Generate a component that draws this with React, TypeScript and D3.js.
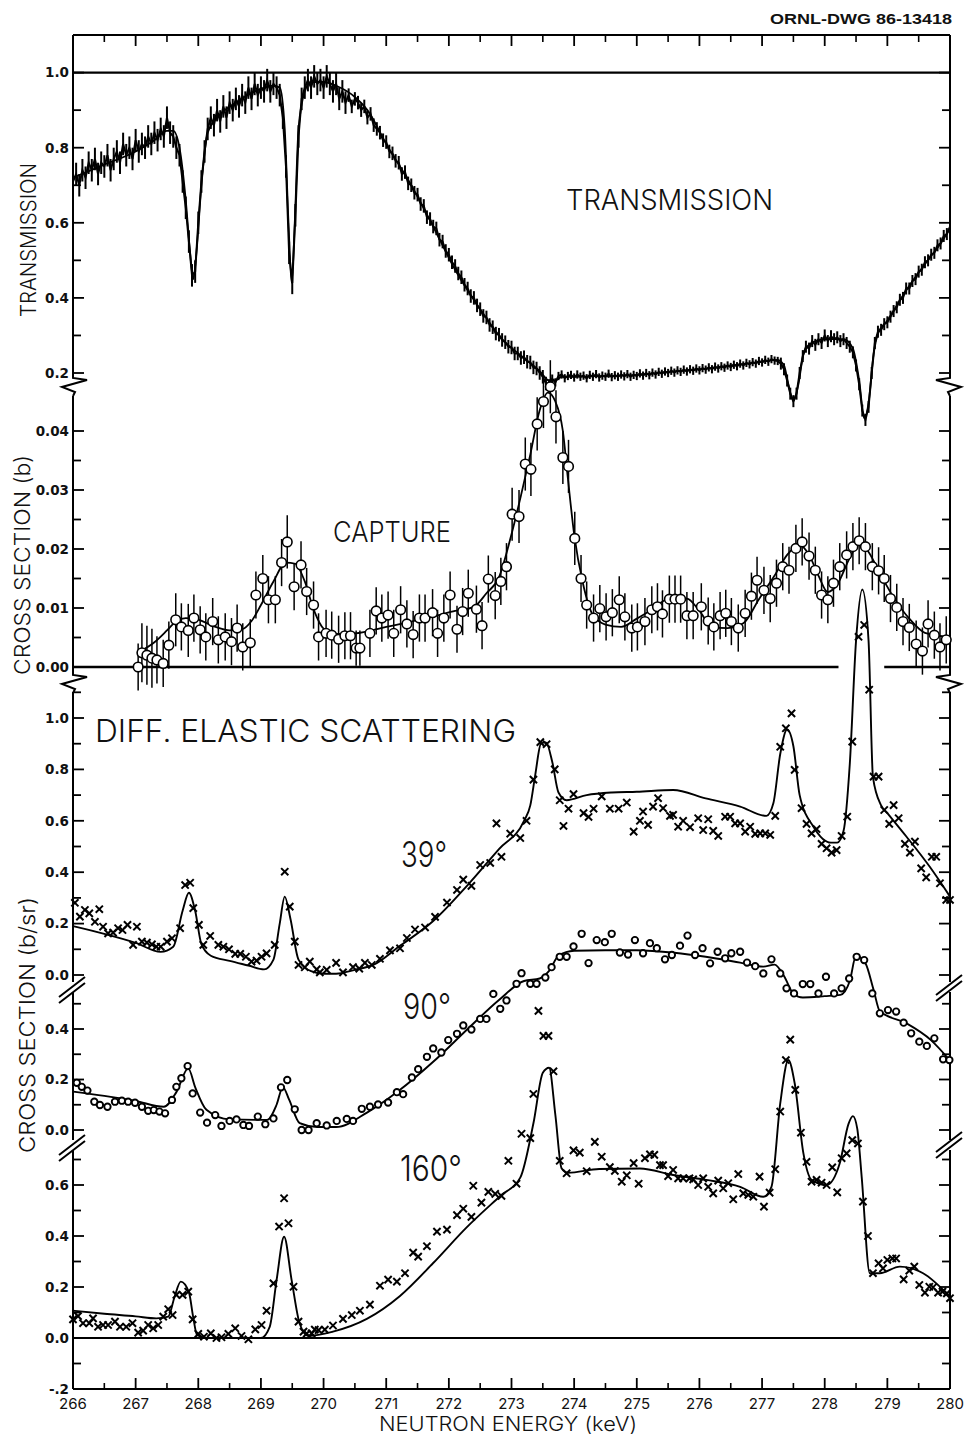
import React from "react";
import * as d3 from "d3";

// ---------------- DATA ----------------
const energyMajor = [266, 267, 268, 269, 270, 271, 272, 273, 274, 275, 276, 277, 278, 279, 280];
const energyLabels = ["266", "267", "268", "269", "270", "271", "272", "273", "274", "275", "276", "277", "278", "279", "280"];
const energyMinor = [266.5, 267.5, 268.5, 269.5, 270.5, 271.5, 272.5, 273.5, 274.5, 275.5, 276.5, 277.5, 278.5, 279.5];

// Transmission: measured points on a 0.05 keV grid starting at 266.00
const transStart = 266;
const transStep = 0.05;
const transData = [
  0.71, 0.73, 0.70, 0.74, 0.72, 0.76, 0.74, 0.77, 0.73, 0.76, 0.75, 0.78, 0.74, 0.77, 0.79, 0.76, 0.81, 0.78, 0.80, 0.77,
  0.82, 0.79, 0.81, 0.80, 0.83, 0.81, 0.84, 0.82, 0.85, 0.83, 0.88, 0.84, 0.83, 0.80, 0.78, 0.71, 0.64, 0.55, 0.46, 0.47,
  0.60, 0.71, 0.79, 0.85, 0.88, 0.86, 0.90, 0.87, 0.91, 0.88, 0.92, 0.90, 0.93, 0.91, 0.94, 0.92, 0.96, 0.93, 0.97, 0.94,
  0.96, 0.95, 0.98, 0.95, 0.97, 0.96, 0.94, 0.88, 0.75, 0.52, 0.44, 0.62, 0.83, 0.93, 0.96, 0.98, 0.96, 0.99, 0.97, 0.98,
  0.96, 0.99, 0.97, 0.95, 0.97, 0.93, 0.95, 0.92, 0.94, 0.91, 0.93, 0.92, 0.90, 0.91, 0.88, 0.89, 0.86, 0.85, 0.84, 0.82,
  0.815, 0.79, 0.785, 0.765, 0.76, 0.73, 0.735, 0.705, 0.70, 0.68, 0.675, 0.65, 0.645, 0.615, 0.61, 0.59, 0.585, 0.555, 0.55, 0.525,
  0.515, 0.495, 0.485, 0.465, 0.455, 0.435, 0.425, 0.405, 0.40, 0.38, 0.37, 0.352, 0.348, 0.328, 0.322, 0.305, 0.302, 0.288, 0.282, 0.27,
  0.268, 0.252, 0.252, 0.24, 0.242, 0.23, 0.228, 0.215, 0.212, 0.2, 0.19, 0.172, 0.172, 0.185, 0.175, 0.192, 0.196, 0.186, 0.192, 0.195,
  0.188, 0.196, 0.19, 0.193, 0.186, 0.195, 0.19, 0.197, 0.188, 0.193, 0.19, 0.198, 0.189, 0.194, 0.19, 0.196, 0.191, 0.197, 0.19, 0.195,
  0.192, 0.199, 0.193, 0.2, 0.194, 0.201, 0.196, 0.203, 0.198, 0.204, 0.2, 0.206, 0.201, 0.207, 0.203, 0.209, 0.204, 0.21, 0.206, 0.212,
  0.207, 0.213, 0.209, 0.215, 0.21, 0.217, 0.212, 0.218, 0.214, 0.22, 0.216, 0.222, 0.218, 0.225, 0.22, 0.227, 0.223, 0.229, 0.225, 0.232,
  0.228, 0.235, 0.23, 0.237, 0.233, 0.232, 0.225, 0.21, 0.18, 0.145, 0.125, 0.145, 0.2, 0.245, 0.27, 0.265, 0.285, 0.275, 0.29, 0.28,
  0.3, 0.285, 0.298, 0.29, 0.295, 0.285, 0.29, 0.28, 0.27, 0.255, 0.22, 0.17, 0.1, 0.075, 0.11, 0.2, 0.28, 0.31, 0.315, 0.33,
  0.335, 0.35, 0.365, 0.375, 0.395, 0.40, 0.425, 0.425, 0.445, 0.45, 0.47, 0.475, 0.495, 0.50, 0.515, 0.52, 0.54, 0.545, 0.565, 0.57,
  0.59,
];
const transErrBands: [number, number, number][] = [
  [266, 270.4, 0.03],
  [270.4, 273.6, 0.018],
  [273.6, 277.3, 0.011],
  [277.3, 280.01, 0.016],
];
const transFit: [number, number][] = [
  [266.0, 0.72], [266.5, 0.755], [267.0, 0.79], [267.3, 0.82], [267.5, 0.845], [267.6, 0.845], [267.7, 0.8],
  [267.8, 0.66], [267.87, 0.52], [267.92, 0.45], [267.97, 0.52], [268.05, 0.7], [268.15, 0.84], [268.3, 0.88],
  [268.6, 0.92], [268.9, 0.95], [269.2, 0.965], [269.3, 0.96], [269.38, 0.85], [269.44, 0.6], [269.49, 0.44],
  [269.54, 0.6], [269.6, 0.85], [269.7, 0.95], [269.8, 0.975], [270.0, 0.975], [270.2, 0.965], [270.5, 0.935],
  [270.7, 0.9], [271.0, 0.81], [271.4, 0.7], [271.75, 0.59], [272.1, 0.475], [272.5, 0.37], [272.85, 0.29],
  [273.2, 0.24], [273.45, 0.205], [273.6, 0.18], [273.7, 0.18], [273.8, 0.19], [274.0, 0.19], [274.5, 0.192],
  [275.0, 0.195], [275.5, 0.203], [276.0, 0.21], [276.5, 0.22], [277.0, 0.23], [277.25, 0.235], [277.35, 0.22],
  [277.42, 0.17], [277.5, 0.125], [277.58, 0.17], [277.66, 0.25], [277.75, 0.275], [278.0, 0.29], [278.3, 0.29],
  [278.45, 0.265], [278.55, 0.18], [278.63, 0.08], [278.7, 0.12], [278.78, 0.25], [278.85, 0.305], [279.0, 0.34],
  [279.3, 0.42], [279.6, 0.49], [279.85, 0.545], [280.0, 0.585],
];

// Capture cross section: [energy, sigma (b), error]
const captureData: [number, number, number][] = [
  [267.04, 0.0, 0.004], [267.10, 0.0024, 0.005], [267.18, 0.002, 0.005], [267.26, 0.0015, 0.005], [267.34, 0.0012, 0.004],
  [267.44, 0.0006, 0.004], [267.53, 0.0037, 0.004], [267.64, 0.008, 0.0045], [267.73, 0.0068, 0.004], [267.84, 0.0062, 0.0045],
  [267.93, 0.0083, 0.004], [268.03, 0.0063, 0.004], [268.12, 0.0051, 0.004], [268.23, 0.0077, 0.004], [268.32, 0.0046, 0.004],
  [268.43, 0.0051, 0.004], [268.53, 0.0043, 0.004], [268.62, 0.0066, 0.004], [268.71, 0.0034, 0.004], [268.83, 0.0041, 0.004],
  [268.92, 0.0122, 0.004], [269.03, 0.015, 0.004], [269.12, 0.0114, 0.004], [269.23, 0.0114, 0.004], [269.33, 0.0177, 0.004],
  [269.42, 0.0212, 0.0045], [269.53, 0.0136, 0.004], [269.64, 0.0173, 0.004], [269.73, 0.0128, 0.004], [269.84, 0.0105, 0.004],
  [269.92, 0.0051, 0.004], [270.04, 0.0057, 0.004], [270.13, 0.0054, 0.004], [270.24, 0.0047, 0.004], [270.34, 0.0053, 0.004],
  [270.43, 0.0053, 0.004], [270.52, 0.0032, 0.003], [270.58, 0.0032, 0.003], [270.74, 0.0057, 0.004], [270.84, 0.0095, 0.004],
  [270.93, 0.0083, 0.004], [271.03, 0.0088, 0.004], [271.12, 0.0057, 0.004], [271.23, 0.0097, 0.004], [271.33, 0.0073, 0.004],
  [271.43, 0.0055, 0.004], [271.53, 0.0083, 0.004], [271.62, 0.0083, 0.004], [271.74, 0.0092, 0.004], [271.82, 0.0057, 0.004],
  [271.92, 0.0083, 0.004], [272.02, 0.0122, 0.004], [272.13, 0.0064, 0.004], [272.22, 0.0094, 0.004], [272.31, 0.0125, 0.004],
  [272.44, 0.0098, 0.004], [272.53, 0.007, 0.004], [272.63, 0.0149, 0.004], [272.74, 0.0121, 0.004], [272.83, 0.0145, 0.004],
  [272.92, 0.017, 0.004], [273.01, 0.0259, 0.0045], [273.12, 0.0255, 0.0045], [273.22, 0.0344, 0.0045], [273.31, 0.0335, 0.0045],
  [273.41, 0.0412, 0.0045], [273.51, 0.045, 0.0045], [273.62, 0.0475, 0.0045], [273.71, 0.0424, 0.0045], [273.82, 0.0355, 0.0045],
  [273.91, 0.034, 0.0045], [274.01, 0.0218, 0.0045], [274.11, 0.015, 0.004], [274.20, 0.0105, 0.004], [274.31, 0.0083, 0.004],
  [274.41, 0.0099, 0.004], [274.51, 0.0085, 0.004], [274.61, 0.0092, 0.004], [274.72, 0.0114, 0.004], [274.81, 0.0085, 0.004],
  [274.92, 0.0066, 0.004], [275.01, 0.0068, 0.004], [275.13, 0.0077, 0.004], [275.24, 0.0097, 0.004], [275.33, 0.0102, 0.004],
  [275.41, 0.009, 0.004], [275.52, 0.0115, 0.004], [275.61, 0.0115, 0.004], [275.70, 0.0115, 0.004], [275.80, 0.0087, 0.004],
  [275.90, 0.0087, 0.004], [276.03, 0.0102, 0.004], [276.14, 0.0078, 0.004], [276.23, 0.0068, 0.004], [276.33, 0.0087, 0.004],
  [276.42, 0.0091, 0.004], [276.51, 0.0077, 0.004], [276.62, 0.0066, 0.004], [276.73, 0.0091, 0.004], [276.83, 0.012, 0.004],
  [276.92, 0.0147, 0.004], [277.03, 0.013, 0.004], [277.13, 0.0116, 0.004], [277.23, 0.0142, 0.004], [277.33, 0.017, 0.004],
  [277.43, 0.0164, 0.004], [277.54, 0.0201, 0.004], [277.64, 0.0212, 0.004], [277.75, 0.0188, 0.004], [277.85, 0.0164, 0.004],
  [277.95, 0.0122, 0.004], [278.05, 0.0114, 0.004], [278.14, 0.0142, 0.004], [278.24, 0.017, 0.004], [278.35, 0.019, 0.004],
  [278.45, 0.0204, 0.004], [278.55, 0.0214, 0.004], [278.65, 0.0204, 0.004], [278.76, 0.017, 0.004], [278.86, 0.0163, 0.004],
  [278.95, 0.015, 0.004], [279.05, 0.0116, 0.004], [279.15, 0.0101, 0.004], [279.25, 0.0077, 0.004], [279.35, 0.0067, 0.004],
  [279.46, 0.0039, 0.004], [279.56, 0.0027, 0.004], [279.65, 0.0073, 0.004], [279.75, 0.0054, 0.004], [279.84, 0.0034, 0.004],
  [279.94, 0.0046, 0.004],
];
const captureFit: [number, number][] = [
  [267.05, 0.0025], [267.3, 0.0042], [267.5, 0.0062], [267.65, 0.0078], [267.8, 0.0083], [267.95, 0.0082], [268.1, 0.0076],
  [268.3, 0.0067], [268.5, 0.0062], [268.7, 0.0064], [268.85, 0.0078], [269.0, 0.0105], [269.2, 0.0145], [269.4, 0.0177],
  [269.55, 0.0175], [269.7, 0.0145], [269.85, 0.0095], [270.0, 0.0065], [270.2, 0.0056], [270.5, 0.0057], [271.0, 0.0068],
  [271.4, 0.0077], [271.8, 0.0087], [272.1, 0.0095], [272.4, 0.0102], [272.6, 0.0125], [272.8, 0.0152], [273.0, 0.0225],
  [273.15, 0.029], [273.3, 0.036], [273.45, 0.0435], [273.58, 0.0465], [273.7, 0.045], [273.82, 0.04], [273.9, 0.032],
  [274.0, 0.0225], [274.14, 0.0142], [274.3, 0.0088], [274.5, 0.0072], [274.75, 0.0068], [275.0, 0.0082], [275.25, 0.0098],
  [275.5, 0.0115], [275.8, 0.0116], [276.0, 0.0095], [276.2, 0.0068], [276.45, 0.0066], [276.7, 0.0074], [276.95, 0.0115],
  [277.2, 0.0155], [277.4, 0.019], [277.6, 0.0207], [277.75, 0.019], [277.9, 0.0155], [278.05, 0.0127], [278.2, 0.014],
  [278.4, 0.0185], [278.56, 0.0212], [278.7, 0.0195], [278.9, 0.0155], [279.1, 0.0118], [279.35, 0.0082], [279.6, 0.0058],
  [280.0, 0.0051],
];
const captureGap = [278.22, 278.95];

// Differential elastic scattering 39 deg (b/sr)
const el39Data: [number, number][] = [
  [266.03, 0.281], [266.11, 0.227], [266.19, 0.253], [266.26, 0.24], [266.35, 0.207], [266.42, 0.256], [266.48, 0.188],
  [266.56, 0.162], [266.64, 0.165], [266.72, 0.182], [266.79, 0.175], [266.87, 0.195], [266.96, 0.117], [267.02, 0.188],
  [267.10, 0.13], [267.18, 0.126], [267.26, 0.119], [267.33, 0.11], [267.40, 0.11], [267.50, 0.13], [267.58, 0.143],
  [267.71, 0.182], [267.79, 0.35], [267.87, 0.359], [267.92, 0.26], [268.01, 0.195], [268.08, 0.117], [268.19, 0.152],
  [268.32, 0.117], [268.40, 0.11], [268.49, 0.1], [268.59, 0.082], [268.67, 0.082], [268.76, 0.071], [268.85, 0.052],
  [268.93, 0.056], [269.01, 0.071], [269.09, 0.084], [269.22, 0.117], [269.38, 0.402], [269.46, 0.266], [269.54, 0.13],
  [269.60, 0.039], [269.70, 0.03], [269.78, 0.052], [269.89, 0.022], [269.94, 0.01], [270.05, 0.02], [270.20, 0.047],
  [270.31, 0.01], [270.47, 0.031], [270.57, 0.025], [270.66, 0.047], [270.77, 0.039], [270.90, 0.063], [271.06, 0.096],
  [271.22, 0.104], [271.33, 0.144], [271.46, 0.177], [271.62, 0.185], [271.78, 0.226], [271.97, 0.282], [272.13, 0.331],
  [272.23, 0.371], [272.36, 0.347], [272.50, 0.428], [272.66, 0.436], [272.76, 0.59], [272.84, 0.46], [272.98, 0.55],
  [273.14, 0.533], [273.24, 0.6], [273.35, 0.76], [273.46, 0.906], [273.56, 0.898], [273.69, 0.8], [273.77, 0.68],
  [273.83, 0.58], [273.91, 0.647], [273.99, 0.704], [274.15, 0.63], [274.23, 0.615], [274.31, 0.647], [274.44, 0.695],
  [274.57, 0.647], [274.71, 0.647], [274.84, 0.671], [274.95, 0.558], [275.05, 0.6], [275.10, 0.636], [275.18, 0.584],
  [275.26, 0.655], [275.34, 0.688], [275.42, 0.649], [275.53, 0.619], [275.58, 0.623], [275.66, 0.577], [275.74, 0.6],
  [275.85, 0.575], [275.98, 0.61], [276.06, 0.564], [276.14, 0.606], [276.22, 0.561], [276.30, 0.541], [276.41, 0.616],
  [276.49, 0.616], [276.57, 0.59], [276.65, 0.59], [276.73, 0.558], [276.81, 0.577], [276.89, 0.549], [276.97, 0.551],
  [277.05, 0.551], [277.13, 0.545], [277.21, 0.619], [277.29, 0.888], [277.38, 0.96], [277.47, 1.018], [277.52, 0.798],
  [277.63, 0.649], [277.71, 0.588], [277.79, 0.551], [277.87, 0.568], [277.95, 0.51], [278.03, 0.493], [278.11, 0.476],
  [278.19, 0.486], [278.27, 0.541], [278.36, 0.616], [278.44, 0.908], [278.54, 1.316], [278.63, 1.362], [278.71, 1.11],
  [278.78, 0.772], [278.86, 0.772], [278.95, 0.642], [279.03, 0.588], [279.10, 0.661], [279.18, 0.61], [279.28, 0.51],
  [279.36, 0.476], [279.44, 0.519], [279.54, 0.415], [279.62, 0.38], [279.71, 0.46], [279.78, 0.46], [279.84, 0.357],
  [279.94, 0.292], [280.0, 0.292],
];
const el39Fit: [number, number][] = [
  [266.0, 0.19], [266.5, 0.16], [267.0, 0.125], [267.4, 0.09], [267.6, 0.11], [267.75, 0.25], [267.85, 0.32], [267.95, 0.25],
  [268.05, 0.12], [268.2, 0.075], [268.5, 0.055], [268.8, 0.037], [269.05, 0.022], [269.2, 0.06], [269.3, 0.2], [269.38, 0.305],
  [269.47, 0.22], [269.6, 0.06], [269.8, 0.015], [270.0, 0.005], [270.2, 0.005], [270.5, 0.02], [270.8, 0.04], [271.2, 0.11],
  [271.75, 0.21], [272.3, 0.35], [272.8, 0.49], [273.2, 0.6], [273.3, 0.66], [273.38, 0.78], [273.47, 0.9], [273.55, 0.905],
  [273.65, 0.83], [273.75, 0.71], [273.88, 0.68], [274.2, 0.7], [274.6, 0.71], [275.0, 0.713], [275.58, 0.72], [276.1, 0.687],
  [276.65, 0.655], [277.07, 0.619], [277.18, 0.668], [277.29, 0.86], [277.4, 0.955], [277.5, 0.89], [277.6, 0.7], [277.82, 0.577],
  [278.1, 0.515], [278.2, 0.515], [278.3, 0.56], [278.4, 0.82], [278.5, 1.3], [278.6, 1.5], [278.7, 1.3], [278.77, 0.77],
  [278.9, 0.66], [279.0, 0.63], [279.3, 0.54], [279.68, 0.42], [280.0, 0.305],
];

// 90 deg
const el90Data: [number, number][] = [
  [266.06, 0.187], [266.14, 0.171], [266.23, 0.156], [266.34, 0.112], [266.43, 0.099], [266.55, 0.092], [266.67, 0.112],
  [266.78, 0.116], [266.88, 0.112], [266.99, 0.108], [267.10, 0.092], [267.20, 0.076], [267.29, 0.079], [267.38, 0.073],
  [267.47, 0.066], [267.58, 0.119], [267.65, 0.171], [267.73, 0.205], [267.83, 0.253], [267.91, 0.145], [268.03, 0.069],
  [268.14, 0.029], [268.27, 0.059], [268.37, 0.016], [268.50, 0.036], [268.61, 0.042], [268.72, 0.02], [268.81, 0.016],
  [268.95, 0.053], [269.07, 0.023], [269.20, 0.046], [269.32, 0.169], [269.42, 0.198], [269.54, 0.082], [269.65, 0.0],
  [269.76, 0.0], [269.89, 0.027], [270.05, 0.018], [270.21, 0.036], [270.37, 0.044], [270.47, 0.036], [270.61, 0.084],
  [270.74, 0.092], [270.87, 0.101], [271.03, 0.109], [271.17, 0.15], [271.27, 0.142], [271.41, 0.208], [271.51, 0.241],
  [271.65, 0.29], [271.75, 0.323], [271.88, 0.307], [271.99, 0.356], [272.13, 0.381], [272.23, 0.414], [272.36, 0.398],
  [272.50, 0.44], [272.60, 0.44], [272.71, 0.539], [272.82, 0.48], [272.92, 0.513], [273.08, 0.579], [273.16, 0.621],
  [273.30, 0.579], [273.40, 0.579], [273.54, 0.604], [273.64, 0.645], [273.77, 0.686], [273.88, 0.686], [273.99, 0.727],
  [274.12, 0.777], [274.23, 0.661], [274.36, 0.752], [274.49, 0.744], [274.60, 0.777], [274.73, 0.703], [274.86, 0.695],
  [274.97, 0.752], [275.10, 0.7], [275.21, 0.74], [275.32, 0.72], [275.45, 0.676], [275.56, 0.693], [275.69, 0.73],
  [275.81, 0.77], [275.93, 0.693], [276.05, 0.72], [276.17, 0.66], [276.29, 0.706], [276.41, 0.68], [276.51, 0.7],
  [276.65, 0.706], [276.76, 0.663], [276.89, 0.649], [277.02, 0.62], [277.15, 0.676], [277.29, 0.62], [277.39, 0.561],
  [277.51, 0.541], [277.65, 0.578], [277.77, 0.578], [277.90, 0.541], [278.02, 0.607], [278.15, 0.541], [278.27, 0.561],
  [278.39, 0.6], [278.51, 0.686], [278.63, 0.673], [278.76, 0.541], [278.88, 0.462], [279.01, 0.475], [279.14, 0.469],
  [279.26, 0.425], [279.38, 0.383], [279.51, 0.35], [279.63, 0.333], [279.75, 0.363], [279.89, 0.28], [279.99, 0.277],
];
const el90Fit: [number, number][] = [
  [266.0, 0.152], [266.5, 0.135], [267.0, 0.115], [267.45, 0.092], [267.65, 0.15], [267.84, 0.244], [267.95, 0.17],
  [268.13, 0.08], [268.5, 0.042], [269.1, 0.04], [269.25, 0.1], [269.35, 0.17], [269.45, 0.12], [269.62, 0.027],
  [269.9, 0.012], [270.2, 0.012], [270.7, 0.07], [271.2, 0.155], [271.75, 0.27], [272.3, 0.4], [272.8, 0.515],
  [273.2, 0.59], [273.45, 0.6], [273.6, 0.63], [273.75, 0.69], [274.0, 0.71], [274.5, 0.712], [275.0, 0.712],
  [275.6, 0.702], [276.1, 0.686], [276.65, 0.663], [277.02, 0.647], [277.2, 0.655], [277.35, 0.61], [277.5, 0.54],
  [277.65, 0.525], [278.0, 0.53], [278.25, 0.535], [278.4, 0.59], [278.5, 0.69], [278.65, 0.66], [278.78, 0.555],
  [278.88, 0.47], [279.3, 0.423], [279.7, 0.355], [280.0, 0.275],
];

// 160 deg
const el160Data: [number, number][] = [
  [266.0, 0.073], [266.08, 0.086], [266.16, 0.058], [266.26, 0.058], [266.32, 0.077], [266.40, 0.044], [266.48, 0.051],
  [266.56, 0.051], [266.67, 0.064], [266.75, 0.044], [266.85, 0.044], [266.95, 0.058], [267.04, 0.021], [267.12, 0.029],
  [267.20, 0.051], [267.28, 0.038], [267.36, 0.051], [267.44, 0.084], [267.52, 0.113], [267.59, 0.09], [267.65, 0.169],
  [267.75, 0.169], [267.84, 0.182], [267.91, 0.073], [268.00, 0.016], [268.09, 0.005], [268.20, 0.018], [268.29, 0.0],
  [268.37, 0.003], [268.48, 0.016], [268.59, 0.038], [268.69, 0.008], [268.80, -0.005], [268.91, 0.034], [269.01, 0.051],
  [269.09, 0.107], [269.20, 0.214], [269.29, 0.437], [269.37, 0.548], [269.44, 0.45], [269.52, 0.201], [269.60, 0.064],
  [269.68, 0.025], [269.73, 0.017], [269.81, 0.018], [269.86, 0.033], [269.92, 0.031], [270.02, 0.033], [270.15, 0.049],
  [270.31, 0.075], [270.45, 0.09], [270.58, 0.107], [270.74, 0.131], [270.90, 0.205], [271.03, 0.229], [271.17, 0.221],
  [271.30, 0.254], [271.43, 0.335], [271.51, 0.319], [271.65, 0.36], [271.81, 0.417], [271.97, 0.425], [272.13, 0.482],
  [272.23, 0.507], [272.36, 0.475], [272.39, 0.597], [272.52, 0.531], [272.63, 0.573], [272.74, 0.565], [272.84, 0.557],
  [272.95, 0.695], [273.08, 0.605], [273.16, 0.801], [273.30, 0.784], [273.35, 0.957], [273.43, 1.283], [273.51, 1.185],
  [273.59, 1.185], [273.67, 1.046], [273.77, 0.695], [273.88, 0.646], [273.99, 0.736], [274.09, 0.727], [274.20, 0.654],
  [274.33, 0.769], [274.44, 0.711], [274.57, 0.67], [274.65, 0.655], [274.76, 0.613], [274.84, 0.638], [274.95, 0.686],
  [275.03, 0.605], [275.13, 0.705], [275.21, 0.72], [275.28, 0.718], [275.37, 0.678], [275.42, 0.678], [275.50, 0.635],
  [275.58, 0.659], [275.66, 0.626], [275.74, 0.626], [275.84, 0.626], [275.90, 0.622], [275.98, 0.6], [276.06, 0.626],
  [276.14, 0.593], [276.22, 0.567], [276.30, 0.617], [276.38, 0.587], [276.46, 0.607], [276.54, 0.544], [276.62, 0.643],
  [276.70, 0.567], [276.78, 0.561], [276.86, 0.554], [276.96, 0.633], [277.03, 0.515], [277.12, 0.57], [277.21, 0.662],
  [277.29, 0.888], [277.38, 1.09], [277.45, 1.17], [277.53, 0.973], [277.62, 0.805], [277.71, 0.691], [277.79, 0.613],
  [277.87, 0.62], [277.95, 0.609], [278.03, 0.6], [278.12, 0.669], [278.20, 0.571], [278.27, 0.705], [278.35, 0.724],
  [278.44, 0.776], [278.53, 0.763], [278.61, 0.535], [278.69, 0.4], [278.77, 0.254], [278.86, 0.293], [278.93, 0.273],
  [279.00, 0.306], [279.08, 0.312], [279.14, 0.312], [279.26, 0.23], [279.35, 0.264], [279.43, 0.28], [279.51, 0.208],
  [279.60, 0.178], [279.67, 0.201], [279.73, 0.199], [279.81, 0.178], [279.88, 0.182], [279.95, 0.175], [280.0, 0.156],
];
const el160Fit: [number, number][] = [
  [266.0, 0.107], [266.5, 0.095], [267.0, 0.085], [267.33, 0.077], [267.52, 0.084], [267.62, 0.16], [267.72, 0.221],
  [267.85, 0.18], [267.92, 0.08], [267.98, 0.012], [268.13, 0.0], [269.0, 0.0], [269.14, 0.044], [269.25, 0.227],
  [269.37, 0.397], [269.49, 0.227], [269.62, 0.055], [269.76, 0.008], [270.15, 0.025], [270.69, 0.075], [271.22, 0.165],
  [271.75, 0.294], [272.28, 0.433], [272.82, 0.557], [273.14, 0.629], [273.35, 0.842], [273.5, 1.04], [273.6, 1.06],
  [273.7, 0.875], [273.8, 0.665], [273.9, 0.648], [274.4, 0.663], [275.05, 0.665], [275.58, 0.639], [276.11, 0.62],
  [276.65, 0.593], [277.02, 0.554], [277.15, 0.593], [277.29, 0.92], [277.42, 1.09], [277.52, 1.0], [277.66, 0.724],
  [277.79, 0.62], [278.03, 0.6], [278.24, 0.685], [278.38, 0.84], [278.45, 0.87], [278.52, 0.82], [278.59, 0.632],
  [278.72, 0.254], [278.88, 0.254], [279.2, 0.28], [279.57, 0.254], [280.0, 0.162],
];

// axis ticks & labels
const transTicks = [0.2, 0.3, 0.4, 0.5, 0.6, 0.7, 0.8, 0.9, 1.0];
const transLabelVals = [0.2, 0.4, 0.6, 0.8, 1.0];
const transLabels = ["0.2", "0.4", "0.6", "0.8", "1.0"];
const captureTicks = [0, 0.005, 0.01, 0.015, 0.02, 0.025, 0.03, 0.035, 0.04];
const captureLabelVals = [0, 0.01, 0.02, 0.03, 0.04];
const captureLabels = ["0.00", "0.01", "0.02", "0.03", "0.04"];
const el39Ticks = [0, 0.1, 0.2, 0.3, 0.4, 0.5, 0.6, 0.7, 0.8, 0.9, 1.0, 1.1];
const el39LabelVals = [0, 0.2, 0.4, 0.6, 0.8, 1.0];
const el39Labels = ["0.0", "0.2", "0.4", "0.6", "0.8", "1.0"];
const el90Ticks = [0, 0.1, 0.2, 0.3, 0.4, 0.5];
const el90LabelVals = [0, 0.2, 0.4];
const el90Labels = ["0.0", "0.2", "0.4"];
const el160Ticks = [-0.1, 0, 0.1, 0.2, 0.3, 0.4, 0.5, 0.6, 0.7];
const el160LabelVals = [-0.2, 0, 0.2, 0.4, 0.6];
const el160Labels = ["-.2", "0.0", "0.2", "0.4", "0.6"];

// ---------------- LAYOUT ----------------
const W = 967;
const H = 1438;
const X0 = 73;
const X1 = 950;
const YT = 35;
const YB = 1389;

const x = d3.scaleLinear().domain([266, 280]).range([X0, X1]);
const yT = d3.scaleLinear().domain([0.2, 1.0]).range([373, 72.6]);
const yC = d3.scaleLinear().domain([0, 0.04]).range([667, 431]);
const y39 = d3.scaleLinear().domain([0, 1]).range([975, 718]);
const y90 = d3.scaleLinear().domain([0, 0.4]).range([1130, 1029]);
const y160 = d3.scaleLinear().domain([-0.2, 0.6]).range([YB, 1185]);

const FONT = "'DejaVu Sans', 'Liberation Sans', sans-serif";
const THIN = "Inter, 'Open Sans', 'DejaVu Sans', sans-serif";

function fitPath(data: [number, number][], ys: d3.ScaleLinear<number, number>) {
  return d3
    .line<[number, number]>()
    .x((d) => x(d[0]))
    .y((d) => ys(d[1]))
    .curve(d3.curveMonotoneX)(data) as string;
}

function errFor(e: number) {
  const b = transErrBands.find((r) => e >= r[0] && e < r[1]);
  return b ? b[2] : 0.01;
}

// axis break intervals (pixel gaps) on both vertical axes
const axisSegments: [number, number][] = [
  [YT, 377],
  [396, 674],
  [692, 982],
  [992, 1140],
  [1150, YB],
];

function Ticks({ ticks, labelVals, labels, ys }: { ticks: number[]; labelVals: number[]; labels: string[]; ys: d3.ScaleLinear<number, number> }) {
  const isMajor = (v: number) => labelVals.some((l) => Math.abs(l - v) < 1e-9);
  return (
    <g>
      {ticks.map((t, i) => {
        const yy = ys(t);
        const len = isMajor(t) ? 11 : 8;
        return (
          <g key={i}>
            <line x1={X0} x2={X0 + len} y1={yy} y2={yy} stroke="#000" strokeWidth={1.8} />
            <line x1={X1} x2={X1 - len} y1={yy} y2={yy} stroke="#000" strokeWidth={1.8} />
          </g>
        );
      })}
      {labelVals.map((v, i) => (
        <text key={"l" + i} x={69} y={ys(v)} dy="0.36em" textAnchor="end" fontFamily={FONT} fontWeight="bold" fontSize={13.5} fill="#111">
          {labels[i]}
        </text>
      ))}
    </g>
  );
}

function XMark({ cx, cy }: { cx: number; cy: number }) {
  const s = 3.6;
  return (
    <path d={`M${cx - s},${cy - s}L${cx + s},${cy + s}M${cx - s},${cy + s}L${cx + s},${cy - s}`} stroke="#000" strokeWidth={2} />
  );
}

export default function App() {
  const transPts: [number, number][] = transData.map((v, i) => [transStart + i * transStep, v]);
  const transLine = d3
    .line<[number, number]>()
    .x((d) => x(d[0]))
    .y((d) => yT(d[1]))(transPts) as string;

  const zig = (xa: number, y0: number, dir: number) =>
    `M${xa},${y0 - 4}L${xa},${y0}L${xa + 14 * dir},${y0 + 2}L${xa - 11 * dir},${y0 + 9}L${xa + 2 * dir},${y0 + 14}L${xa},${y0 + 18}`;
  const slash = (xa: number, yc: number) =>
    `M${xa - 14},${yc + 9}L${xa + 12},${yc - 11}M${xa - 14},${yc + 15}L${xa + 12},${yc - 5}`;

  return (
    <svg width={W} height={H} viewBox={`0 0 ${W} ${H}`} style={{ position: "absolute", left: 0, top: 0, display: "block", background: "#fff" }}>
      <rect x={0} y={0} width={W} height={H} fill="#fff" />

      {/* frame */}
      <line x1={X0} x2={X1} y1={YT} y2={YT} stroke="#000" strokeWidth={2} />
      <line x1={X0} x2={X1} y1={YB} y2={YB} stroke="#000" strokeWidth={2} />
      {axisSegments.map((s, i) => (
        <g key={"ax" + i}>
          <line x1={X0} x2={X0} y1={s[0]} y2={s[1]} stroke="#000" strokeWidth={2} />
          <line x1={X1} x2={X1} y1={s[0]} y2={s[1]} stroke="#000" strokeWidth={2} />
        </g>
      ))}
      {/* breaks */}
      <path d={zig(X0, 378, 1)} fill="none" stroke="#000" strokeWidth={2} />
      <path d={zig(X1, 378, -1)} fill="none" stroke="#000" strokeWidth={2} />
      <path d={zig(X0, 675, 1)} fill="none" stroke="#000" strokeWidth={2} />
      <path d={zig(X1, 675, -1)} fill="none" stroke="#000" strokeWidth={2} />
      <path d={slash(X0, 988)} fill="none" stroke="#000" strokeWidth={2} />
      <path d={slash(X1, 986)} fill="none" stroke="#000" strokeWidth={2} />
      <path d={slash(X0, 1146)} fill="none" stroke="#000" strokeWidth={2} />
      <path d={slash(X1, 1143)} fill="none" stroke="#000" strokeWidth={2} />

      {/* energy ticks top & bottom */}
      {energyMajor.map((e, i) => (
        <g key={"em" + i}>
          <line x1={x(e)} x2={x(e)} y1={YT} y2={YT + 11} stroke="#000" strokeWidth={1.8} />
          <line x1={x(e)} x2={x(e)} y1={YB} y2={YB - 11} stroke="#000" strokeWidth={1.8} />
          <text x={x(e)} y={1409} textAnchor="middle" fontFamily={THIN} fontWeight={400} fontSize={15} fill="#111">
            {energyLabels[i]}
          </text>
        </g>
      ))}
      {energyMinor.map((e, i) => (
        <g key={"en" + i}>
          <line x1={x(e)} x2={x(e)} y1={YT} y2={YT + 7} stroke="#000" strokeWidth={1.6} />
          <line x1={x(e)} x2={x(e)} y1={YB} y2={YB - 6} stroke="#000" strokeWidth={1.6} />
        </g>
      ))}

      {/* y ticks */}
      <Ticks ticks={transTicks} labelVals={transLabelVals} labels={transLabels} ys={yT} />
      <Ticks ticks={captureTicks} labelVals={captureLabelVals} labels={captureLabels} ys={yC} />
      <Ticks ticks={el39Ticks} labelVals={el39LabelVals} labels={el39Labels} ys={y39} />
      <Ticks ticks={el90Ticks} labelVals={el90LabelVals} labels={el90Labels} ys={y90} />
      <Ticks ticks={el160Ticks} labelVals={el160LabelVals} labels={el160Labels} ys={y160} />

      {/* reference lines */}
      <line x1={X0} x2={X1} y1={yT(1.0)} y2={yT(1.0)} stroke="#000" strokeWidth={2.2} />
      <line x1={X0} x2={x(captureGap[0])} y1={yC(0)} y2={yC(0)} stroke="#000" strokeWidth={2.4} />
      <line x1={x(captureGap[1])} x2={X1} y1={yC(0)} y2={yC(0)} stroke="#000" strokeWidth={2.4} />
      <line x1={X0} x2={X1} y1={y160(0)} y2={y160(0)} stroke="#000" strokeWidth={2} />

      {/* transmission */}
      <g stroke="#000" strokeWidth={2}>
        {transPts.map((p, i) => {
          const er = errFor(p[0]);
          return <line key={"te" + i} x1={x(p[0])} x2={x(p[0])} y1={yT(p[1] - er)} y2={yT(p[1] + er)} />;
        })}
      </g>
      <path d={transLine} fill="none" stroke="#000" strokeWidth={2} />
      <path d={fitPath(transFit, yT)} fill="none" stroke="#000" strokeWidth={1.8} />

      {/* capture */}
      <g stroke="#000" strokeWidth={1.5}>
        {captureData.map((d, i) => (
          <line key={"ce" + i} x1={x(d[0])} x2={x(d[0])} y1={yC(d[1] - d[2])} y2={yC(d[1] + d[2])} />
        ))}
      </g>
      <path d={fitPath(captureFit, yC)} fill="none" stroke="#000" strokeWidth={1.8} />
      {captureData.map((d, i) => (
        <circle key={"cc" + i} cx={x(d[0])} cy={yC(d[1])} r={4.8} fill="#fff" stroke="#000" strokeWidth={1.6} />
      ))}

      {/* elastic fits */}
      <path d={fitPath(el39Fit, y39)} fill="none" stroke="#000" strokeWidth={1.9} />
      <path d={fitPath(el90Fit, y90)} fill="none" stroke="#000" strokeWidth={1.9} />
      <path d={fitPath(el160Fit, y160)} fill="none" stroke="#000" strokeWidth={1.9} />

      {/* elastic data */}
      {el39Data.map((d, i) => (
        <XMark key={"a" + i} cx={x(d[0])} cy={y39(d[1])} />
      ))}
      {el90Data.map((d, i) => (
        <circle key={"b" + i} cx={x(d[0])} cy={y90(d[1])} r={3.2} fill="#fff" stroke="#000" strokeWidth={1.9} />
      ))}
      {el160Data.map((d, i) => (
        <XMark key={"c" + i} cx={x(d[0])} cy={y160(d[1])} />
      ))}

      {/* in-plot labels */}
      <g fontFamily={THIN} fontWeight={300} fill="#111">
        <text x={566} y={210} fontSize={28} textLength={207} lengthAdjust="spacingAndGlyphs">TRANSMISSION</text>
        <text x={333} y={542} fontSize={28} textLength={118} lengthAdjust="spacingAndGlyphs">CAPTURE</text>
        <text x={95} y={742} fontSize={31} textLength={421} lengthAdjust="spacingAndGlyphs">DIFF. ELASTIC SCATTERING</text>
        <text x={401} y={867} fontSize={35} textLength={46} lengthAdjust="spacingAndGlyphs">39°</text>
        <text x={403} y={1019} fontSize={35} textLength={48} lengthAdjust="spacingAndGlyphs">90°</text>
        <text x={400} y={1181} fontSize={35} textLength={62} lengthAdjust="spacingAndGlyphs">160°</text>

        {/* axis titles */}
        <text transform="translate(36,240) rotate(-90)" textAnchor="middle" fontSize={22} textLength={154} lengthAdjust="spacingAndGlyphs">TRANSMISSION</text>
        <text transform="translate(30,565) rotate(-90)" textAnchor="middle" fontSize={22} textLength={220} lengthAdjust="spacingAndGlyphs">CROSS SECTION (b)</text>
        <text transform="translate(35,1025) rotate(-90)" textAnchor="middle" fontSize={22} textLength={256} lengthAdjust="spacingAndGlyphs">CROSS SECTION (b/sr)</text>
        <text x={508} y={1431} textAnchor="middle" fontSize={20} textLength={258} lengthAdjust="spacingAndGlyphs">NEUTRON ENERGY (keV)</text>
      </g>
      <text x={952} y={24} textAnchor="end" fontFamily="'Liberation Sans', Arial, sans-serif" fontWeight="bold" fontSize={14} textLength={182} lengthAdjust="spacingAndGlyphs" fill="#111">ORNL-DWG 86-13418</text>
    </svg>
  );
}
